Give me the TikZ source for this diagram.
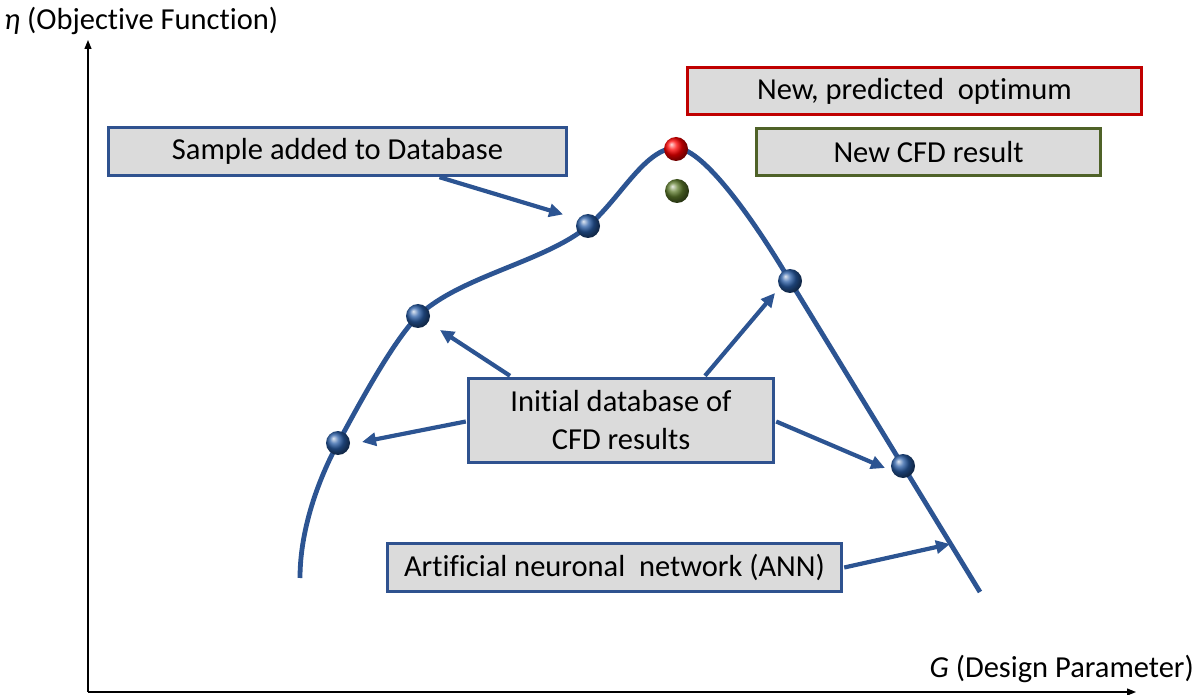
\documentclass[tikz,border=0pt]{standalone}
\usepackage{fontspec}
\setmainfont{Carlito}[Ligatures=NoCommon]
\usetikzlibrary{arrows.meta,calc}
\definecolor{curveblue}{RGB}{44,84,146}
\definecolor{boxblue}{RGB}{47,82,143}
\definecolor{boxfill}{RGB}{219,219,219}
\definecolor{optred}{RGB}{192,0,0}
\definecolor{cfdgreen}{RGB}{79,98,40}
\definecolor{ballblue}{RGB}{40,92,165}
\definecolor{ballgreen}{RGB}{95,125,45}
\tikzset{
  label box/.style={draw=#1, line width=3.4pt, fill=boxfill, inner sep=0pt,
    font=\fontsize{30.5}{38}\selectfont, align=center},
  sample point/.style={circle, minimum size=24pt, inner sep=0pt, shading=ball, ball color=#1},
  pointer/.style={draw=curveblue, line width=4.2pt,
    -{Triangle[length=14pt,width=13pt]}},
  axis/.style={line width=1.2pt, -{Triangle[length=9pt,width=7pt]}}
}
\begin{document}
\begin{tikzpicture}[x=1pt,y=-1pt]
\useasboundingbox (0,0) rectangle (1195,695);

% axes
\coordinate (origin) at (88,692);
\coordinate (ytip) at (88,40);
\coordinate (xtip) at (1136,692);
\draw[axis] (origin) -- (ytip);
\draw[axis] (origin) -- (xtip);
\node[anchor=west, font=\fontsize{30.5}{36}\selectfont, inner sep=0pt] (ylab) at (4,21) {\textit{η} (Objective Function)};
\node[anchor=east, font=\fontsize{30.5}{36}\selectfont, inner sep=0pt] (xlab) at (1194,669) {\textit{G} (Design Parameter)};

% response surface of the network
\draw[curveblue, line width=4.8pt]
  (300,578) .. controls (300,530) and (318,480) .. (338,443)
            .. controls (356,410) and (392,342) .. (418,316)
            .. controls (460,276) and (545,262) .. (588,226)
            .. controls (620,199) and (645,148) .. (676,148)
            .. controls (705,148) and (760,230) .. (790,281)
            -- (980,592);

% samples
\node[sample point=ballblue] (s1) at (338,443) {};
\node[sample point=ballblue] (s2) at (418,316) {};
\node[sample point=ballblue] (s3) at (588,226) {};
\node[sample point=ballblue] (s4) at (790,281) {};
\node[sample point=ballblue] (s5) at (903,466) {};
\node[sample point=red] (opt) at (676,149) {};
\node[sample point=ballgreen] (cfd) at (677,191) {};

% labels
\node[label box=optred, minimum width=454pt, minimum height=47pt] (optbox) at (914.5,91) {New, predicted\ \ optimum};
\node[label box=cfdgreen, minimum width=344pt, minimum height=47pt] (cfdbox) at (928.5,152) {New CFD result};
\node[label box=boxblue, minimum width=458pt, minimum height=48pt] (samplebox) at (337.5,151.5) {Sample added to Database};
\node[label box=boxblue, minimum width=305pt, minimum height=84pt] (initbox) at (621,420.5) {Initial database of\\CFD results};
\node[label box=boxblue, minimum width=454pt, minimum height=48pt] (annbox) at (614.5,567.5) {Artificial neuronal\ \ network (ANN)};

% pointers
\coordinate (anntip) at (950,544);
\draw[pointer, shorten >=2pt] ($(samplebox.south)+(102,0)$) -- ($(s3)+(-23,-11)$);
\draw[pointer] ($(initbox.north)+(-111,-1)$) -- ($(s2)+(22,14)$);
\draw[pointer] ($(initbox.north)+(84,-1)$) -- ($(s4)+(-15,12)$);
\draw[pointer] ($(initbox.west)+(-1,1)$) -- ($(s1)+(24,-1)$);
\draw[pointer] ($(initbox.east)+(1,1)$) -- ($(s5)+(-18,2)$);
\draw[pointer] ($(annbox.east)+(1,0)$) -- (anntip);
\end{tikzpicture}
\end{document}
